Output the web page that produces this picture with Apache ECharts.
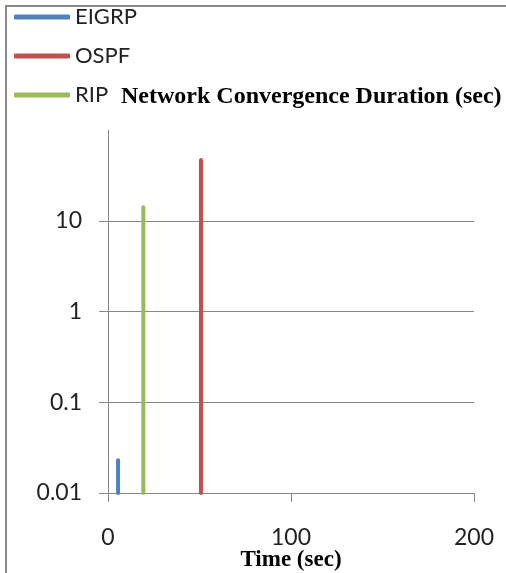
<!DOCTYPE html>
<html>
<head>
<meta charset="utf-8">
<script src="https://cdn.jsdelivr.net/npm/echarts@6/dist/echarts.min.js"></script>
<style>
  html, body { margin: 0; padding: 0; background: #fff; }
  #chart { width: 506px; height: 573px; }
</style>
</head>
<body>
<div id="chart"></div>
<script>
// protocols, in legend order
var protocols = ['EIGRP', 'OSPF', 'RIP'];
var colors = ['#4F81BD', '#C0504D', '#9BBB59'];
// time at which each protocol converged (sec) and the duration (sec)
var convTime = [5.5, 50.8, 19.3];
var convDuration = [0.023, 46.8, 14.1];
var baseValue = 0.01;
var yTicks = [0.01, 0.1, 1, 10];
var xTicks = [0, 100, 200];

var chart = echarts.init(document.getElementById('chart'));

var series = protocols.map(function (name, i) {
  return {
    name: name,
    type: 'line',
    symbol: 'none',
    color: colors[i],
    lineStyle: { width: 4, cap: 'round' },
    data: [[convTime[i], baseValue], [convTime[i], convDuration[i]]]
  };
});

var tickFont = { fontFamily: 'Lato', fontSize: 23, color: '#222' };

chart.setOption({
  animation: false,
  backgroundColor: '#fff',
  graphic: [{
    type: 'rect',
    shape: { x: 6, y: 6, width: 520, height: 600 },
    style: { fill: 'none', stroke: '#888', lineWidth: 2 },
    silent: true
  }],
  title: {
    text: 'Network Convergence Duration (sec)',
    left: 121,
    top: 85,
    padding: 0,
    textStyle: { fontFamily: 'Liberation Serif', fontWeight: 'bold', fontSize: 24, color: '#000' }
  },
  legend: {
    orient: 'vertical',
    left: 14,
    top: 4,
    padding: 0,
    itemWidth: 56,
    itemHeight: 5,
    itemGap: 13,
    icon: 'roundRect',
    data: protocols,
    textStyle: { fontFamily: 'Lato', fontSize: 22, lineHeight: 26, color: '#222' }
  },
  grid: { left: 108, top: 130, width: 366, height: 363, outerBoundsMode: 'none', containLabel: false },
  xAxis: {
    type: 'value',
    min: 0,
    max: 200,
    interval: 100,
    name: 'Time (sec)',
    nameLocation: 'middle',
    nameGap: 56,
    nameMoveOverlap: false,
    nameTextStyle: { fontFamily: 'Liberation Serif', fontWeight: 'bold', fontSize: 23, color: '#000' },
    axisLine: { lineStyle: { color: '#888' } },
    axisTick: { show: true, length: 9, lineStyle: { color: '#888' } },
    axisLabel: Object.assign({ margin: 33, customValues: xTicks }, tickFont),
    splitLine: { show: false }
  },
  yAxis: {
    type: 'log',
    logBase: 10,
    min: 0.01,
    max: 100,
    axisLine: { show: true, lineStyle: { color: '#888' } },
    axisTick: { show: true, length: 9, customValues: yTicks, lineStyle: { color: '#888' } },
    axisLabel: Object.assign({
      margin: 26,
      customValues: yTicks,
      formatter: function (v) { return String(v); }
    }, tickFont),
    splitLine: { show: true, lineStyle: { color: '#888' } }
  },
  series: series
});
</script>
</body>
</html>
